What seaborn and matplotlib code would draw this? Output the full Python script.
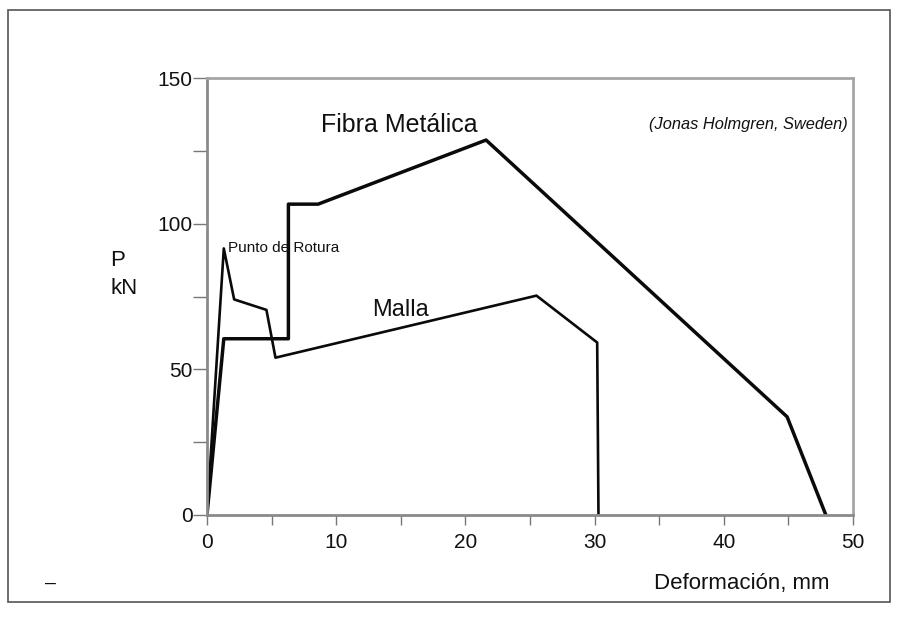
import matplotlib
matplotlib.use("Agg")
import matplotlib.pyplot as plt
import matplotlib.patches as mpatches
import seaborn as sns
import pandas as pd

# Load-deflection curves (deformation in mm, load P in kN)
fibra_x = [0.0, 1.3, 6.3, 6.3, 8.6, 21.6, 44.9, 47.9]
fibra_p = [0.0, 60.5, 60.5, 106.7, 106.7, 128.7, 33.7, 0.0]
malla_x = [0.0, 1.3, 2.1, 4.6, 5.3, 25.5, 30.2, 30.3]
malla_p = [0.0, 91.5, 74.0, 70.4, 54.0, 75.3, 59.2, 0.0]

x_ticks = [0, 10, 20, 30, 40, 50]
y_ticks = [0, 50, 100, 150]

sns.set_style("white")
plt.rcParams["font.family"] = ["Liberation Sans", "DejaVu Sans"]

df = pd.concat([
    pd.DataFrame({"def": fibra_x, "P": fibra_p, "serie": "Fibra Metálica"}),
    pd.DataFrame({"def": malla_x, "P": malla_p, "serie": "Malla"}),
])

W, H = 897, 622
fig = plt.figure(figsize=(W / 100, H / 100), dpi=100)
ax = fig.add_axes([207 / W, 1 - 515 / H, (853 - 207) / W, (515 - 78) / H])

sns.lineplot(data=df[df.serie == "Malla"], x="def", y="P", sort=False,
             estimator=None, color="#0a0a0a", lw=1.9, ax=ax, legend=False)
sns.lineplot(data=df[df.serie == "Fibra Metálica"], x="def", y="P", sort=False,
             estimator=None, color="#0a0a0a", lw=2.5, ax=ax, legend=False)

ax.set_xlim(0, 50)
ax.set_ylim(0, 150)
ax.set_xticks(x_ticks)
ax.set_yticks(y_ticks)
ax.set_xticks(range(5, 50, 10), minor=True)
ax.set_yticks([25, 75, 125], minor=True)
ax.set_xlabel("")
ax.set_ylabel("")

for side in ["left", "bottom", "top", "right"]:
    ax.spines[side].set_visible(True)
    ax.spines[side].set_color("#8a8a8a")
    ax.spines[side].set_linewidth(2.0)
ax.spines["top"].set_color("#a5a5a5")
ax.spines["right"].set_color("#a5a5a5")

ax.tick_params(axis="both", which="both", direction="out", color="#777777",
               width=1.0, labelsize=15, labelcolor="#111111")
ax.tick_params(axis="y", which="both", length=10, left=True, pad=0.5)
ax.tick_params(axis="x", which="both", length=7, bottom=True, pad=6)

ax.text(8.86, 133.9, "Fibra Metálica", fontsize=18, va="center", ha="left",
        color="#111111")
ax.text(49.6, 134.2, "(Jonas Holmgren, Sweden)", fontsize=11.8, style="italic",
        va="center", ha="right", color="#111111")
ax.text(12.8, 70.5, "Malla", fontsize=17, va="center", ha="left",
        color="#111111")
ax.text(1.65, 91.8, "Punto de Rotura", fontsize=11, va="center", ha="left",
        color="#111111")

fig.text(110 / W, 1 - 260 / H, "P", fontsize=16, va="center", ha="left",
         color="#111111")
fig.text(110 / W, 1 - 289 / H, "kN", fontsize=16, va="center", ha="left",
         color="#111111")
fig.text(654 / W, 1 - 583 / H, "Deformación, mm", fontsize=16, va="center",
         ha="left", color="#111111")
fig.text(50 / W, 1 - 583 / H, "–", fontsize=14, va="center", ha="center",
         color="#111111")

# outer frame around the whole figure
fig.patches.append(mpatches.Rectangle((8 / W, 1 - 602 / H), (890 - 8) / W,
                                      (602 - 10) / H, transform=fig.transFigure,
                                      fill=False, edgecolor="#555555", lw=1.2))

fig.savefig("out.png", dpi=100)
